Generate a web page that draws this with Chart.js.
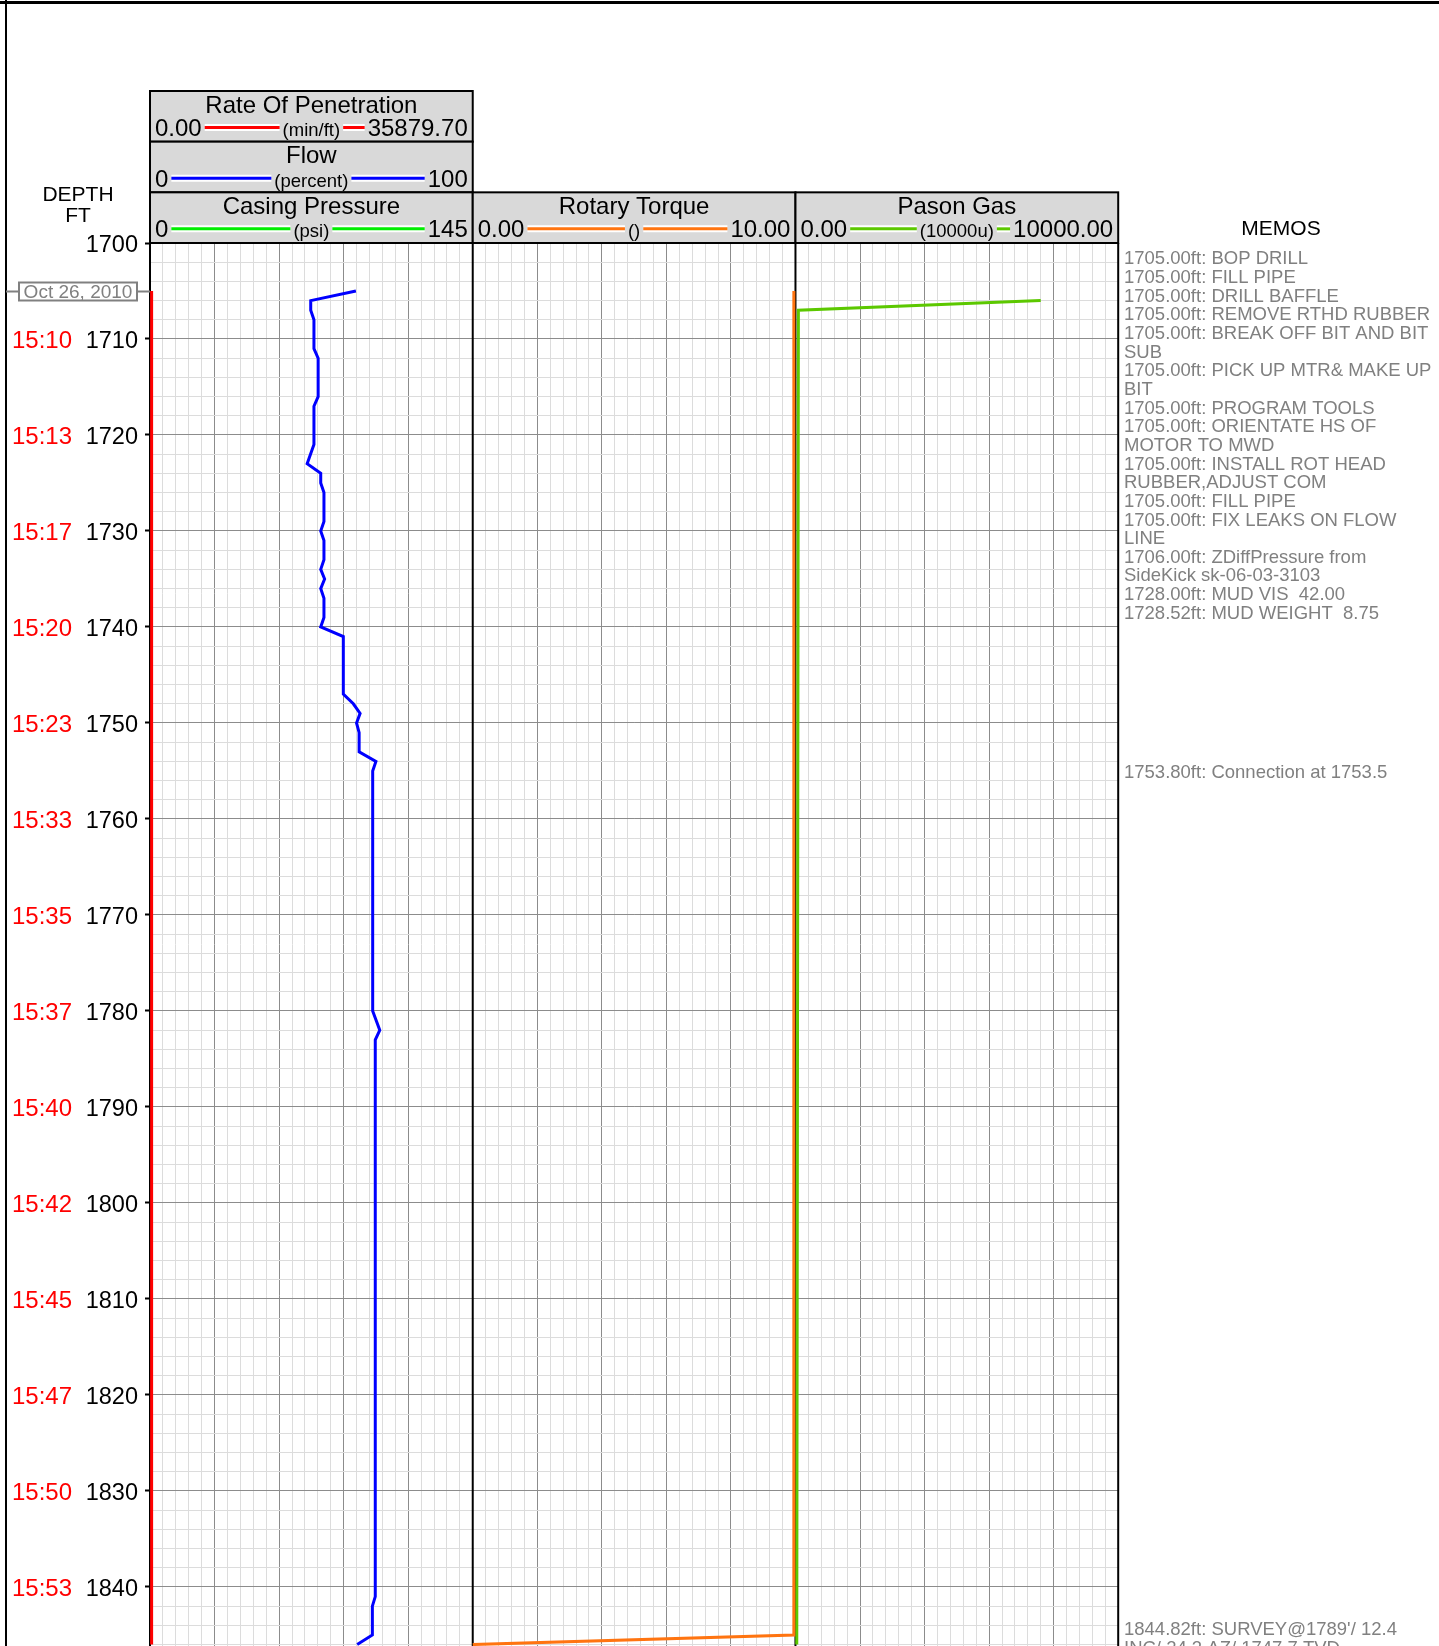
<!DOCTYPE html>
<html>
<head>
<meta charset="utf-8">
<title>Mud log</title>
<script src="https://cdn.jsdelivr.net/npm/chart.js@4.4.1/dist/chart.umd.min.js"></script>
<style>
html, body { margin: 0; padding: 0; background: #fff; }
#wrap { position: relative; width: 1439px; height: 1646px; overflow: hidden; }
</style>
</head>
<body>
<div id="wrap"><canvas id="logChart" width="1439" height="1646"></canvas></div>
<script>
const FONT = "'Liberation Sans', Arial, sans-serif";
Chart.defaults.font.family = FONT;

// depth window shown (ft)
const depthTop = 1700;
const depthBottom = 1846.15;

// track ranges, as printed in the headers
const ropMax = 35879.70;
const flowMax = 100;
const torqueMax = 10;
const gasMax = 10000;

// curves: depth (ft) and value
const ropDepth = [1705, 1846];
const ropValue = [180, 180];

const flowDepth = [1705, 1706, 1707, 1708, 1711, 1712, 1716, 1717, 1721, 1723, 1724, 1725, 1726, 1729,
  1730, 1731, 1733, 1734, 1735, 1736, 1737, 1739, 1740, 1741, 1747, 1748, 1749, 1750, 1751, 1753,
  1754, 1755, 1780, 1782, 1783, 1841, 1842, 1845, 1846];
const flowValue = [63.8, 49.8, 49.8, 50.8, 50.8, 52.1, 52.1, 50.8, 50.8, 48.7, 52.9, 52.9, 53.9, 53.9,
  52.9, 53.9, 53.9, 52.9, 54.1, 52.9, 53.9, 53.9, 52.9, 59.9, 59.9, 63.0, 65.1, 64.0, 64.8, 64.8,
  70.0, 69.0, 69.0, 71.2, 69.8, 69.8, 68.9, 68.9, 64.2];

const torqueDepth = [1705, 1845, 1846];
const torqueValue = [9.95, 9.95, 0.0];

const gasDepth = [1706, 1707, 1846];
const gasValue = [7600, 90, 40];

// time stamps on the depth axis
const timeDepth = [1710, 1720, 1730, 1740, 1750, 1760, 1770, 1780, 1790, 1800, 1810, 1820, 1830, 1840];
const timeLabel = ['15:10', '15:13', '15:17', '15:20', '15:23', '15:33', '15:35', '15:37', '15:40',
  '15:42', '15:45', '15:47', '15:50', '15:53'];

// memo blocks (depth where the block starts, and its lines)
const memoAt = [1701.7, 1755.2, 1844.5];
const memoLines = [
  ['1705.00ft: BOP DRILL', '1705.00ft: FILL PIPE', '1705.00ft: DRILL BAFFLE',
   '1705.00ft: REMOVE RTHD RUBBER', '1705.00ft: BREAK OFF BIT AND BIT', 'SUB',
   '1705.00ft: PICK UP MTR& MAKE UP', 'BIT', '1705.00ft: PROGRAM TOOLS',
   '1705.00ft: ORIENTATE HS OF', 'MOTOR TO MWD', '1705.00ft: INSTALL ROT HEAD',
   'RUBBER,ADJUST COM', '1705.00ft: FILL PIPE', '1705.00ft: FIX LEAKS ON FLOW', 'LINE',
   '1706.00ft: ZDiffPressure from', 'SideKick sk-06-03-3103', '1728.00ft: MUD VIS  42.00',
   '1728.52ft: MUD WEIGHT  8.75'],
  ['1753.80ft: Connection at 1753.5'],
  ["1844.82ft: SURVEY@1789'/ 12.4", 'INC/ 24.3 AZ/ 1747.7 TVD']
];

const dateDepth = 1705;
const dateText = 'Oct 26, 2010';

function pts(depths, values) {
  return depths.map((d, i) => ({ x: values[i], y: d }));
}

function legendLine(ctx, a, b, y, color) {
  if (b <= a) return;
  ctx.beginPath();
  ctx.moveTo(a, y);
  ctx.lineTo(b, y);
  ctx.strokeStyle = '#fff';
  ctx.lineWidth = 7;
  ctx.stroke();
  ctx.beginPath();
  ctx.moveTo(a, y);
  ctx.lineTo(b, y);
  ctx.strokeStyle = color;
  ctx.lineWidth = 3;
  ctx.stroke();
}

function headerBox(ctx, x0, x1, top, bot, title, lo, unit, hi, color) {
  ctx.fillStyle = '#d9d9d9';
  ctx.fillRect(x0, top, x1 - x0, bot - top);
  ctx.strokeStyle = '#000';
  ctx.lineWidth = 2;
  ctx.strokeRect(x0, top, x1 - x0, bot - top);
  const cx = (x0 + x1) / 2;
  ctx.fillStyle = '#000';
  ctx.textBaseline = 'alphabetic';
  ctx.font = '24px ' + FONT;
  ctx.textAlign = 'center';
  ctx.fillText(title, cx, top + 21.5);
  const base = top + 45;
  ctx.textAlign = 'left';
  ctx.fillText(lo, x0 + 5, base);
  const loW = ctx.measureText(lo).width;
  ctx.textAlign = 'right';
  ctx.fillText(hi, x1 - 5, base);
  const hiW = ctx.measureText(hi).width;
  ctx.font = '18.5px ' + FONT;
  ctx.textAlign = 'center';
  ctx.fillText(unit, cx, base);
  const uW = ctx.measureText(unit).width;
  const ly = base - 8.5;
  legendLine(ctx, x0 + 5 + loW + 3, cx - uW / 2 - 3, ly, color);
  legendLine(ctx, cx + uW / 2 + 3, x1 - 5 - hiW - 3, ly, color);
}

const logDecor = {
  id: 'logDecor',
  beforeDatasetsDraw(chart) {
    const ctx = chart.ctx;
    const area = chart.chartArea;
    const gx = chart.scales.xGrid;
    ctx.save();
    ctx.strokeStyle = '#000';
    ctx.lineWidth = 2;
    [0, 25, 50, 75].forEach(v => {
      const x = gx.getPixelForValue(v);
      ctx.beginPath();
      ctx.moveTo(x, area.top);
      ctx.lineTo(x, area.bottom);
      ctx.stroke();
    });
    ctx.restore();
  },
  afterDraw(chart) {
    const ctx = chart.ctx;
    const area = chart.chartArea;
    const gx = chart.scales.xGrid;
    const y = chart.scales.y;
    const t0 = gx.getPixelForValue(0), t1 = gx.getPixelForValue(25);
    const t2 = gx.getPixelForValue(50), t3 = gx.getPixelForValue(75);
    ctx.save();

    // page frame
    ctx.fillStyle = '#000';
    ctx.fillRect(0, 1, chart.width, 3);
    ctx.fillRect(5, 0, 2, chart.height);

    // track headers
    const h = (area.top - 91) / 3;
    headerBox(ctx, t0, t1, area.top - 3 * h, area.top - 2 * h, 'Rate Of Penetration', '0.00', '(min/ft)', '35879.70', '#ff0000');
    headerBox(ctx, t0, t1, area.top - 2 * h, area.top - h, 'Flow', '0', '(percent)', '100', '#0000ff');
    headerBox(ctx, t0, t1, area.top - h, area.top, 'Casing Pressure', '0', '(psi)', '145', '#00ee00');
    headerBox(ctx, t1, t2, area.top - h, area.top, 'Rotary Torque', '0.00', '()', '10.00', '#ff7410');
    headerBox(ctx, t2, t3, area.top - h, area.top, 'Pason Gas', '0.00', '(10000u)', '10000.00', '#5cc800');

    // depth axis title
    ctx.fillStyle = '#000';
    ctx.textAlign = 'center';
    ctx.textBaseline = 'middle';
    ctx.font = '21px ' + FONT;
    ctx.fillText('DEPTH', 78, 195);
    ctx.fillText('FT', 78, 216);

    // date marker
    const dy = Math.round(y.getPixelForValue(dateDepth)) + 0.5;
    ctx.strokeStyle = '#808080';
    ctx.lineWidth = 2;
    ctx.beginPath();
    ctx.moveTo(6, dy); ctx.lineTo(19, dy);
    ctx.moveTo(137, dy); ctx.lineTo(t0, dy);
    ctx.stroke();
    ctx.strokeRect(19, dy - 9, 118, 18);
    ctx.fillStyle = '#808080';
    ctx.font = '19px ' + FONT;
    ctx.fillText(dateText, 78, dy + 1);

    // memos
    ctx.fillStyle = '#000';
    ctx.font = '21px ' + FONT;
    ctx.fillText('MEMOS', 1281, 229);
    ctx.fillStyle = '#808080';
    ctx.font = '18.5px ' + FONT;
    ctx.textAlign = 'left';
    memoLines.forEach((lines, k) => {
      const y0 = y.getPixelForValue(memoAt[k]);
      lines.forEach((s, i) => ctx.fillText(s, 1124, y0 + i * 18.65));
    });
    ctx.restore();
  }
};

const datasets = [
  { label: 'Rate Of Penetration', data: pts(ropDepth, ropValue), xAxisID: 'xRop', borderColor: '#ff0000' },
  { label: 'Flow', data: pts(flowDepth, flowValue), xAxisID: 'xFlow', borderColor: '#0000ff' },
  { label: 'Rotary Torque', data: pts(torqueDepth, torqueValue), xAxisID: 'xTorque', borderColor: '#ff7410' },
  { label: 'Pason Gas', data: pts(gasDepth, gasValue), xAxisID: 'xGas', borderColor: '#5cc800' }
].map(d => Object.assign(d, { yAxisID: 'y', showLine: true, pointRadius: 0, borderWidth: 3, fill: false }));

function fixWidth(w) {
  return s => {
    s.width = w;
    s.paddingTop = 0;
    s.paddingBottom = 0;
  };
}

const chart = new Chart(document.getElementById('logChart'), {
  type: 'scatter',
  data: { datasets: datasets },
  options: {
    responsive: false,
    animation: false,
    devicePixelRatio: 1,
    layout: { padding: { top: 243, left: 12, right: 320.8, bottom: 0 } },
    plugins: { legend: { display: false }, tooltip: { enabled: false } },
    scales: {
      xGrid: {
        type: 'linear', position: 'bottom', min: 0, max: 75,
        ticks: { display: false, stepSize: 1 },
        grid: {
          drawTicks: false,
          color: c => (c.tick.value % 25 === 0 ? 'rgba(0,0,0,0)' : c.tick.value % 5 === 0 ? '#8c8c8c' : '#dcdcdc')
        },
        border: { display: false }
      },
      xRop: { type: 'linear', display: false, min: 0, max: ropMax * 3 },
      xFlow: { type: 'linear', display: false, min: 0, max: flowMax * 3 },
      xTorque: { type: 'linear', display: false, min: -torqueMax, max: torqueMax * 2 },
      xGas: { type: 'linear', display: false, min: -gasMax * 2, max: gasMax },
      y: {
        type: 'linear', position: 'left', reverse: true, min: depthTop, max: depthBottom, weight: 0,
        afterFit: fixWidth(68),
        ticks: {
          stepSize: 2, autoSkip: false, includeBounds: false, padding: 7, color: '#000',
          labelOffset: 2.5,
          font: { size: 23.5 },
          callback: v => (Math.round(v) % 10 === 0 ? String(Math.round(v)) : '')
        },
        grid: {
          color: c => (Math.round(c.tick.value) % 10 === 0 ? '#8c8c8c' : '#dcdcdc'),
          tickLength: 5,
          tickWidth: 2,
          tickColor: c => (Math.round(c.tick.value) % 10 === 0 ? '#000' : 'rgba(0,0,0,0)')
        },
        border: { display: false }
      },
      yTime: {
        type: 'linear', position: 'left', reverse: true, min: depthTop, max: depthBottom, weight: 1,
        afterFit: fixWidth(70),
        ticks: {
          stepSize: 10, autoSkip: false, includeBounds: false, crossAlign: 'far', color: '#ff0000',
          labelOffset: 2.5,
          font: { size: 24 },
          callback: v => {
            const i = timeDepth.indexOf(Math.round(v));
            return i < 0 ? '' : timeLabel[i];
          }
        },
        grid: { display: false },
        border: { display: false }
      }
    }
  },
  plugins: [logDecor]
});
</script>
</body>
</html>
